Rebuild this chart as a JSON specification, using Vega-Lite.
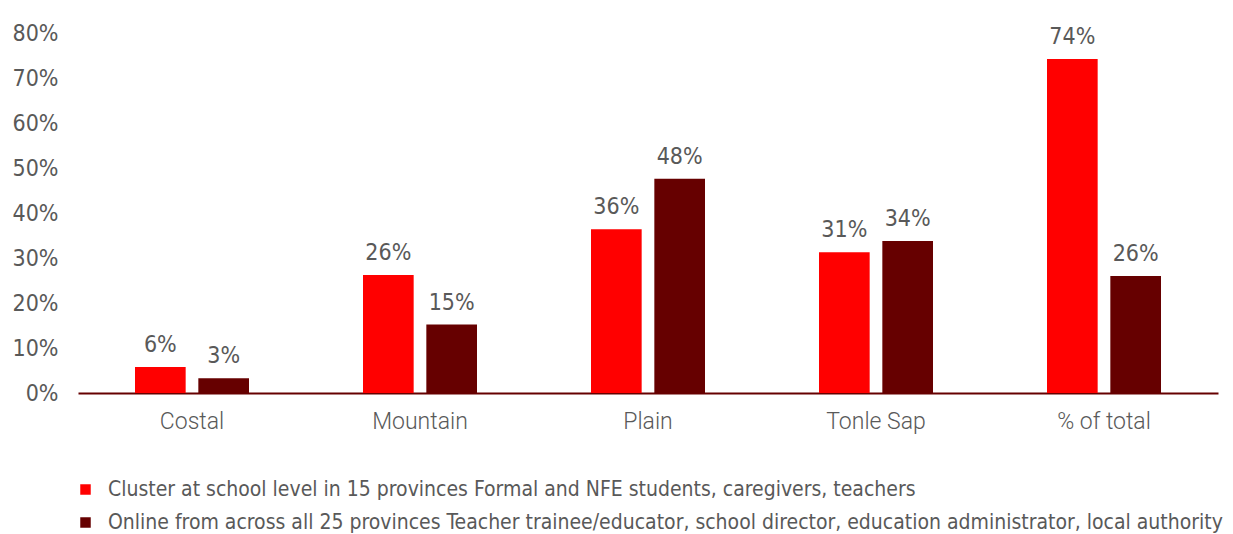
{
  "$schema": "https://vega.github.io/schema/vega-lite/v6.json",
  "width": 1140,
  "height": 360,
  "autosize": {"type": "none"},
  "padding": {"left": 78, "top": 33, "right": 15, "bottom": 141},
  "background": "white",
  "config": {"view": {"stroke": null}, "font": "DejaVu Sans Condensed, sans-serif"},
  "data": {
    "values": [
      {"region": "Costal", "series": "Cluster at school level in 15 provinces Formal and NFE students, caregivers, teachers", "value": 0.058},
      {"region": "Costal", "series": "Online from across all 25 provinces Teacher trainee/educator, school director, education administrator, local authority", "value": 0.033},
      {"region": "Mountain", "series": "Cluster at school level in 15 provinces Formal and NFE students, caregivers, teachers", "value": 0.262},
      {"region": "Mountain", "series": "Online from across all 25 provinces Teacher trainee/educator, school director, education administrator, local authority", "value": 0.152},
      {"region": "Plain", "series": "Cluster at school level in 15 provinces Formal and NFE students, caregivers, teachers", "value": 0.364},
      {"region": "Plain", "series": "Online from across all 25 provinces Teacher trainee/educator, school director, education administrator, local authority", "value": 0.476},
      {"region": "Tonle Sap", "series": "Cluster at school level in 15 provinces Formal and NFE students, caregivers, teachers", "value": 0.313},
      {"region": "Tonle Sap", "series": "Online from across all 25 provinces Teacher trainee/educator, school director, education administrator, local authority", "value": 0.338},
      {"region": "% of total", "series": "Cluster at school level in 15 provinces Formal and NFE students, caregivers, teachers", "value": 0.742},
      {"region": "% of total", "series": "Online from across all 25 provinces Teacher trainee/educator, school director, education administrator, local authority", "value": 0.26}
    ]
  },
  "encoding": {
    "x": {
      "field": "region", "type": "nominal", "sort": null,
      "scale": {"paddingInner": 0.5, "paddingOuter": 0.25},
      "axis": {
        "title": null, "labelAngle": 0, "ticks": false,
        "domainColor": "#660000", "domainWidth": 2,
        "labelFont": "Roboto", "labelFontWeight": 300, "labelFontSize": 23,
        "labelColor": "#595959", "labelPadding": 17
      }
    },
    "xOffset": {"field": "series", "type": "nominal", "scale": {"paddingInner": 0.2}},
    "y": {
      "field": "value", "type": "quantitative",
      "scale": {"domain": [0, 0.8], "nice": false},
      "axis": {
        "title": null, "format": ".0%", "values": [0, 0.1, 0.2, 0.3, 0.4, 0.5, 0.6, 0.7, 0.8],
        "grid": false, "domain": false, "ticks": false, "labelOverlap": false,
        "labelFontSize": 23, "labelColor": "#595959", "labelPadding": 20
      }
    }
  },
  "layer": [
    {
      "mark": {"type": "bar"},
      "encoding": {
        "color": {
          "field": "series", "type": "nominal",
          "scale": {"range": ["#FF0000", "#660000"]},
          "legend": {
            "title": null, "orient": "none", "legendX": -3, "legendY": 446,
            "symbolType": "square", "symbolSize": 110, "symbolStrokeWidth": 0,
            "labelFontSize": 21, "labelColor": "#595959", "labelLimit": 1200,
            "rowPadding": 11, "labelOffset": 12
          }
        }
      }
    },
    {
      "mark": {"type": "text", "baseline": "bottom", "dy": -10, "fontSize": 23, "color": "#595959"},
      "encoding": {
        "text": {"field": "value", "type": "quantitative", "format": ".0%"}
      }
    }
  ]
}
